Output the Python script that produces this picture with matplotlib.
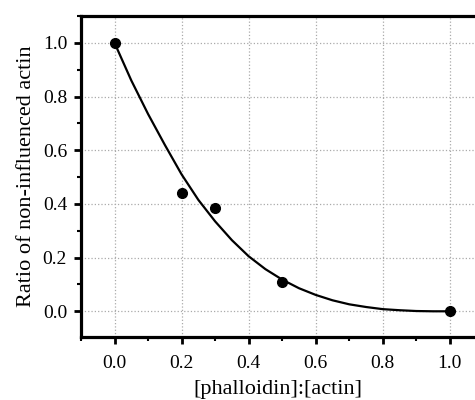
import matplotlib
matplotlib.use("Agg")
import matplotlib.pyplot as plt
from matplotlib.ticker import MultipleLocator

ratio = [0.0, 0.2, 0.3, 0.5, 1.0]
noninfluenced = [1.0, 0.44, 0.385, 0.11, 0.0]

fit_x = [0.0, 0.05, 0.1, 0.15, 0.2, 0.25, 0.3, 0.35, 0.4, 0.45, 0.5,
         0.55, 0.6, 0.65, 0.7, 0.75, 0.8, 0.85, 0.9, 0.95, 1.0]
fit_y = [1.0, 0.86, 0.735, 0.62, 0.51, 0.415, 0.335, 0.265, 0.205, 0.157, 0.118,
         0.086, 0.061, 0.041, 0.026, 0.016, 0.008, 0.004, 0.001, 0.0, 0.0]

xticks = [0.0, 0.2, 0.4, 0.6, 0.8, 1.0]
yticks = [0.0, 0.2, 0.4, 0.6, 0.8, 1.0]

plt.rcParams['font.family'] = ['Liberation Serif', 'DejaVu Serif']

fig = plt.figure(figsize=(4.75, 4.0), dpi=100)
ax = fig.add_axes([0.1705, 0.158, 1.0 - 0.1705, 0.96 - 0.158])

ax.plot(fit_x, fit_y, color='black', lw=1.6, zorder=3)
ax.plot(ratio, noninfluenced, 'o', color='black', ms=7, zorder=4, clip_on=False)

ax.set_xlim(-0.1, 1.075)
ax.set_ylim(-0.095, 1.1)
ax.set_xticks(xticks)
ax.set_yticks(yticks)
ax.set_xticklabels([f"{v:.1f}" for v in xticks])
ax.set_yticklabels([f"{v:.1f}" for v in yticks])
ax.xaxis.set_minor_locator(MultipleLocator(0.1))
ax.yaxis.set_minor_locator(MultipleLocator(0.1))

ax.grid(True, which='major', linestyle=':', color='#aaaaaa', lw=0.9)
ax.set_axisbelow(True)

for s in ['left', 'bottom', 'top']:
    ax.spines[s].set_linewidth(2.3)
ax.spines['right'].set_visible(False)

ax.tick_params(which='major', direction='out', length=5, width=2, labelsize=14, pad=5)
ax.tick_params(axis='x', which='major', pad=8)
ax.tick_params(which='minor', direction='out', length=3, width=1.5)
ax.tick_params(top=False, right=False, which='both')

ax.set_xlabel("[phalloidin]:[actin]", fontsize=16, labelpad=6)
ax.set_ylabel("Ratio of non-influenced actin", fontsize=16, labelpad=5)

fig.savefig("out.png", dpi=100)
